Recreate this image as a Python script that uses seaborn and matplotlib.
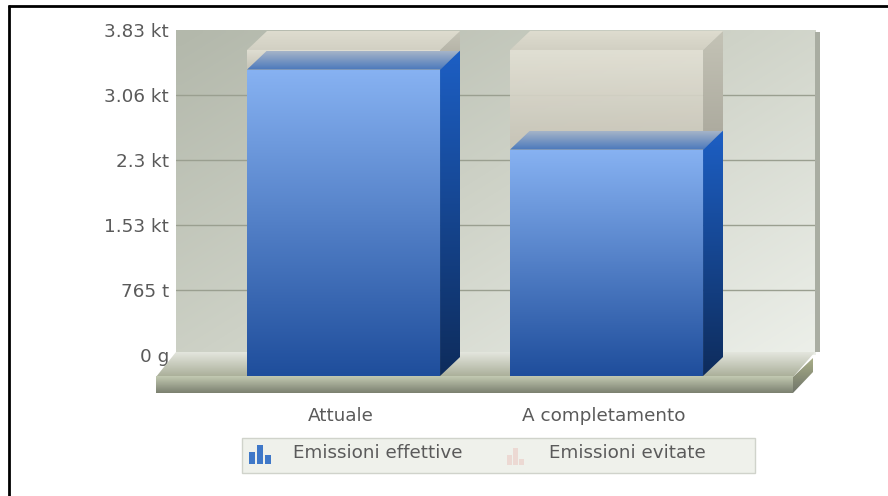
import numpy as np
import pandas as pd
import matplotlib
matplotlib.use('Agg')
import matplotlib.pyplot as plt
import seaborn as sns
from matplotlib.colors import LinearSegmentedColormap
from matplotlib.patches import Polygon, Rectangle
from matplotlib.transforms import ScaledTranslation

# data, in kt
categories = ['Attuale', 'A completamento']
effettive = [3.60, 2.66]
evitate = [0.23, 1.17]
tick_values = [0, 0.765, 1.53, 2.3, 3.06, 3.83]
tick_labels = ['0 g', '765 t', '1.53 kt', '2.3 kt', '3.06 kt', '3.83 kt']
legend_labels = ['Emissioni effettive', 'Emissioni evitate']

W, H = 888, 496
TEXT = '#5a5a5a'
FONT = 13.2
YMAX = 3.83


def px_axes(x0, y0, x1, y1, **kw):
    # axes from pixel box, y measured from the top of the image
    return fig.add_axes([x0 / W, 1 - y1 / H, (x1 - x0) / W, (y1 - y0) / H], **kw)


def grad_poly(ax, pts, top, bottom, zorder=3, alpha=1.0):
    # polygon filled with a vertical gradient, top colour to bottom colour on screen
    pts = np.array(pts)
    cmap = LinearSegmentedColormap.from_list('g', [top, bottom])
    xl, yl = ax.get_xlim(), ax.get_ylim()
    ramp = np.linspace(0, 1, 128).reshape(-1, 1)
    if yl[0] > yl[1]:
        ramp = ramp[::-1]  # pixel axes has y running downwards
    im = ax.imshow(ramp, cmap=cmap, aspect='auto', origin='upper',
                   extent=[pts[:, 0].min(), pts[:, 0].max(), pts[:, 1].min(), pts[:, 1].max()],
                   zorder=zorder, alpha=alpha, interpolation='bilinear')
    poly = Polygon(pts, closed=True, transform=ax.transData, fc='none', ec='none', clip_on=False)
    ax.add_patch(poly)
    im.set_clip_path(poly)
    im.set_clip_box(fig.bbox)  # the 3d faces stick out of the axes
    ax.set_xlim(xl)
    ax.set_ylim(yl)


sns.set_theme(style='white')
plt.rcParams['font.family'] = ['DejaVu Sans']

fig = plt.figure(figsize=(W / 100, H / 100), dpi=100, facecolor='white')

# ---- back wall: ticks and grid
ax_wall = px_axes(176, 30, 815, 355, zorder=0)
ax_wall.set_xlim(0, 1)
ax_wall.set_ylim(0, YMAX)
u, v = np.meshgrid(np.linspace(0, 1, 64), np.linspace(0, 1, 64))
wall_cmap = LinearSegmentedColormap.from_list('wall', ['#b3b8ab', '#cfd3c8', '#ecefe9'])
ax_wall.imshow(0.55 * u + 0.45 * v, cmap=wall_cmap, aspect='auto', origin='upper',
               extent=[0, 1, 0, YMAX], zorder=0, interpolation='bilinear')
ax_wall.set_yticks(tick_values)
ax_wall.set_yticklabels(tick_labels, color=TEXT, fontsize=FONT)
ax_wall.set_xticks([])
ax_wall.tick_params(axis='y', length=0, pad=5)
for t in tick_values[1:-1]:
    ax_wall.axhline(t, color='#9a9f90', lw=1, zorder=1)
sns.despine(ax=ax_wall, left=True, bottom=True, top=True, right=True)

# ---- floor, wall edge, legend, page border (pixel coordinates)
ax_px = px_axes(0, 0, W, H, zorder=1)
ax_px.set_xlim(0, W)
ax_px.set_ylim(H, 0)
ax_px.axis('off')
ax_px.patch.set_alpha(0)
ax_px.add_patch(Rectangle((815, 32), 5, 320, fc='#a9ada2', ec='none', zorder=1))
grad_poly(ax_px, [(176, 352), (815, 352), (793, 377), (156, 377)], '#e4e6de', '#a9ae98', zorder=2)
grad_poly(ax_px, [(156, 376), (793, 376), (793, 393), (156, 393)], '#c3cab2', '#7b8070', zorder=3)
grad_poly(ax_px, [(793, 377), (813, 358), (813, 372), (793, 393)], '#a9ae88', '#70756a', zorder=3)
ax_px.plot([9, 9], [5, H], color='black', lw=2, solid_capstyle='butt')
ax_px.plot([8, W], [6, 6], color='black', lw=2, solid_capstyle='butt')

ax_px.add_patch(Rectangle((242, 438), 513, 35, fc='#eff1eb', ec='#d0d3cb', lw=1))
# little chart icons in the legend
for i, h in enumerate((12, 19, 9)):
    ax_px.add_patch(Rectangle((249 + i * 8, 464 - h), 6, h, fc='#3f78c8', ec='none'))
for i, h in enumerate((10, 17, 6)):
    ax_px.add_patch(Rectangle((507 + i * 6, 465 - h), 5, h, fc='#ecd9d3', ec='none'))
ax_px.text(293, 453, legend_labels[0], color=TEXT, fontsize=FONT, va='center')
ax_px.text(549, 453, legend_labels[1], color=TEXT, fontsize=FONT, va='center')

# ---- front plane: the bars
ax = px_axes(156, 50, 793, 376, zorder=2)
ax.patch.set_alpha(0)
df = pd.DataFrame({'categoria': categories, 'effettive': effettive, 'evitate': evitate})
df['totale'] = df['effettive'] + df['evitate']
sns.barplot(data=df, x='categoria', y='effettive', width=0.734, color='#3f78c8', ax=ax, zorder=4)
ax.set_xlim(-0.713, 1.709)
ax.set_ylim(0, YMAX)
ax.set_xlabel('')
ax.set_ylabel('')
ax.set_yticks([])
ax.tick_params(axis='x', length=0, pad=22, labelsize=FONT, labelcolor=TEXT)
for lab in ax.get_xticklabels():
    lab.set_transform(lab.get_transform() + ScaledTranslation(-0.03, 0, fig.dpi_scale_trans))
sns.despine(ax=ax, left=True, bottom=True, top=True, right=True)

# depth of the fake 3d, 20 px sideways and up
dx = 20 / (637 / 2.422)
dy = 19 / (326 / YMAX)

for i, bar in enumerate(list(ax.patches)):
    x0, x1 = bar.get_x(), bar.get_x() + bar.get_width()
    h = df['effettive'][i]
    tot = df['totale'][i]
    bar.set_visible(False)
    # evitate block behind/above, see-through like the original
    grad_poly(ax, [(x0, h), (x1, h), (x1, tot), (x0, tot)], '#e3e1d5', '#c6c3b6', zorder=5, alpha=0.92)
    grad_poly(ax, [(x1, h), (x1 + dx, h + dy), (x1 + dx, tot + dy), (x1, tot)], '#c4c3b6', '#a9a79b', zorder=5)
    grad_poly(ax, [(x0, tot), (x1, tot), (x1 + dx, tot + dy), (x0 + dx, tot + dy)], '#dedccf', '#d2d0c3', zorder=5)
    # effettive block
    grad_poly(ax, [(x0, h), (x0 + dx, h + dy), (x1 + dx, h + dy), (x1, h)], '#a5b4c8', '#4a78bc', zorder=6)
    grad_poly(ax, [(x1, 0), (x1 + dx, dy), (x1 + dx, h + dy), (x1, h)], '#1d5fc4', '#0e2c5c', zorder=6)
    grad_poly(ax, [(x0, 0), (x1, 0), (x1, h), (x0, h)], '#87b2f2', '#1f4e9c', zorder=7)

fig.savefig('out.png', dpi=100)
